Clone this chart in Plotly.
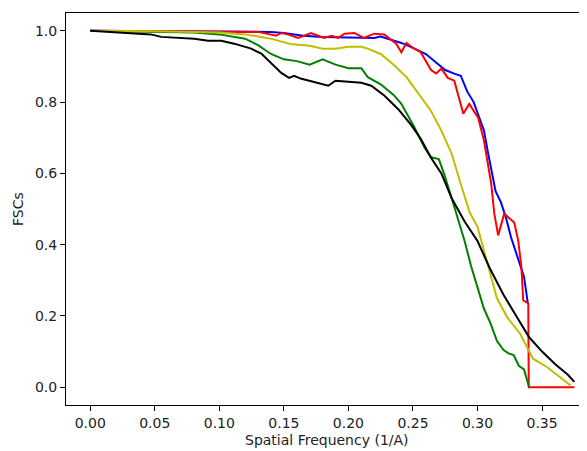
import plotly.graph_objects as go

# FSC curves (spatial frequency in 1/A)
black_f = [0.0, 0.0295, 0.047, 0.055, 0.068, 0.0806, 0.0914, 0.1015, 0.1115, 0.1247, 0.1325, 0.14,
           0.148, 0.154, 0.158, 0.163, 0.169, 0.1766, 0.1844, 0.19, 0.2, 0.21, 0.2177, 0.228,
           0.2386, 0.249, 0.256, 0.264, 0.272, 0.28, 0.29, 0.30, 0.31, 0.32, 0.33, 0.34, 0.35,
           0.36, 0.37, 0.375]
black_fsc = [1.0, 0.994, 0.99, 0.983, 0.98, 0.978, 0.972, 0.972, 0.964, 0.95, 0.936, 0.91,
             0.882, 0.868, 0.874, 0.866, 0.86, 0.852, 0.846, 0.86, 0.857, 0.854, 0.846, 0.818,
             0.78, 0.734, 0.697, 0.644, 0.60, 0.53, 0.465, 0.41, 0.33, 0.26, 0.20, 0.14, 0.10,
             0.065, 0.035, 0.015]

green_f = [0.0, 0.05, 0.08, 0.10, 0.11, 0.12, 0.13, 0.14, 0.15, 0.16, 0.17, 0.18, 0.19, 0.20,
           0.21, 0.215, 0.225, 0.235, 0.241, 0.251, 0.259, 0.264, 0.27, 0.274, 0.28, 0.285,
           0.29, 0.295, 0.30, 0.305, 0.31, 0.315, 0.32, 0.324, 0.328, 0.332, 0.336, 0.34]
green_fsc = [1.0, 0.997, 0.995, 0.99, 0.985, 0.978, 0.96, 0.935, 0.92, 0.915, 0.905, 0.92, 0.905,
             0.895, 0.895, 0.87, 0.85, 0.82, 0.795, 0.73, 0.672, 0.645, 0.64, 0.60, 0.53, 0.47,
             0.41, 0.34, 0.28, 0.22, 0.18, 0.13, 0.105, 0.095, 0.09, 0.06, 0.05, 0.0]

yellow_f = [0.0, 0.05, 0.10, 0.12, 0.14, 0.155, 0.17, 0.18, 0.19, 0.20, 0.21, 0.215, 0.225,
            0.235, 0.245, 0.255, 0.264, 0.272, 0.28, 0.287, 0.294, 0.30, 0.31, 0.315, 0.323,
            0.333, 0.343, 0.354, 0.364, 0.372]
yellow_fsc = [1.0, 0.999, 0.995, 0.99, 0.978, 0.963, 0.958, 0.95, 0.95, 0.955, 0.955, 0.95, 0.935,
              0.905, 0.87, 0.82, 0.775, 0.72, 0.655, 0.57, 0.49, 0.45, 0.32, 0.25, 0.196,
              0.15, 0.08, 0.056, 0.028, 0.005]

blue_f = [0.0, 0.10, 0.14, 0.15, 0.165, 0.18, 0.20, 0.22, 0.225, 0.235, 0.241, 0.25, 0.26,
          0.27, 0.275, 0.282, 0.287, 0.292, 0.297, 0.30, 0.305, 0.308, 0.311, 0.314, 0.318,
          0.322, 0.326, 0.331, 0.336, 0.339]
blue_fsc = [1.0, 0.998, 0.997, 0.994, 0.986, 0.983, 0.982, 0.98, 0.984, 0.972, 0.966, 0.952, 0.935,
            0.905, 0.89, 0.88, 0.874, 0.83, 0.80, 0.77, 0.72, 0.66, 0.60, 0.55, 0.52,
            0.476, 0.42, 0.365, 0.31, 0.235]

red_f = [0.0, 0.05, 0.10, 0.13, 0.144, 0.148, 0.153, 0.161, 0.171, 0.177, 0.181, 0.187, 0.192,
         0.197, 0.2045, 0.212, 0.22, 0.2277, 0.233, 0.237, 0.241, 0.245, 0.25, 0.256, 0.264,
         0.268, 0.272, 0.277, 0.282, 0.289, 0.2936, 0.3005, 0.305, 0.3106, 0.313, 0.316, 0.3207,
         0.3284, 0.3315, 0.334, 0.3354, 0.3393, 0.3397, 0.375]
red_fsc = [1.0, 0.999, 0.998, 0.997, 0.986, 0.994, 0.99, 0.98, 0.994, 0.986, 0.98, 0.986, 0.98,
           0.992, 0.994, 0.98, 0.992, 0.99, 0.976, 0.964, 0.94, 0.966, 0.952, 0.94, 0.89,
           0.88, 0.894, 0.868, 0.86, 0.767, 0.795, 0.756, 0.692, 0.571, 0.487, 0.426, 0.487,
           0.462, 0.412, 0.336, 0.244, 0.235, 0.0, 0.0]

x_ticks = [0.0, 0.05, 0.10, 0.15, 0.20, 0.25, 0.30, 0.35]
y_ticks = [0.0, 0.2, 0.4, 0.6, 0.8, 1.0]

fig = go.Figure()
for f, v, c in [(blue_f, blue_fsc, "#0000ff"),
                (red_f, red_fsc, "#ff0000"),
                (green_f, green_fsc, "#008000"),
                (yellow_f, yellow_fsc, "#bfbf00"),
                (black_f, black_fsc, "#000000")]:
    fig.add_trace(go.Scatter(x=f, y=v, mode="lines", line=dict(color=c, width=2),
                             showlegend=False))

axis_style = dict(showgrid=False, zeroline=False, showline=True, linecolor="black", linewidth=1,
                  ticks="outside", ticklen=5, tickcolor="black", tickwidth=1, automargin=False,
                  tickfont=dict(size=14, color="#222222"))

# the page body adds an 8px margin, so the figure is 8px smaller each way
fig.update_layout(
    width=579, height=443,
    margin=dict(l=58, r=0, t=5, b=46),
    plot_bgcolor="white", paper_bgcolor="white",
    font=dict(family="DejaVu Sans", size=14, color="#222222"),
    xaxis=dict(range=[-0.01875, 0.3848], tickvals=x_ticks,
               ticktext=[f"{t:.2f}" for t in x_ticks], mirror=True, **axis_style),
    yaxis=dict(range=[-0.05, 1.05], tickvals=y_ticks,
               ticktext=[f"{t:.1f}" for t in y_ticks], **axis_style),
    annotations=[
        dict(text="Spatial Frequency (1/A)", xref="paper", yref="paper", x=0.5, y=0,
             xanchor="center", yanchor="middle", yshift=-35, showarrow=False,
             font=dict(size=14)),
        dict(text="FSCs", xref="paper", yref="paper", x=0, y=0.5, textangle=-90,
             xanchor="center", yanchor="middle", xshift=-48, showarrow=False,
             font=dict(size=14)),
    ],
)

fig.write_html("out.html")
